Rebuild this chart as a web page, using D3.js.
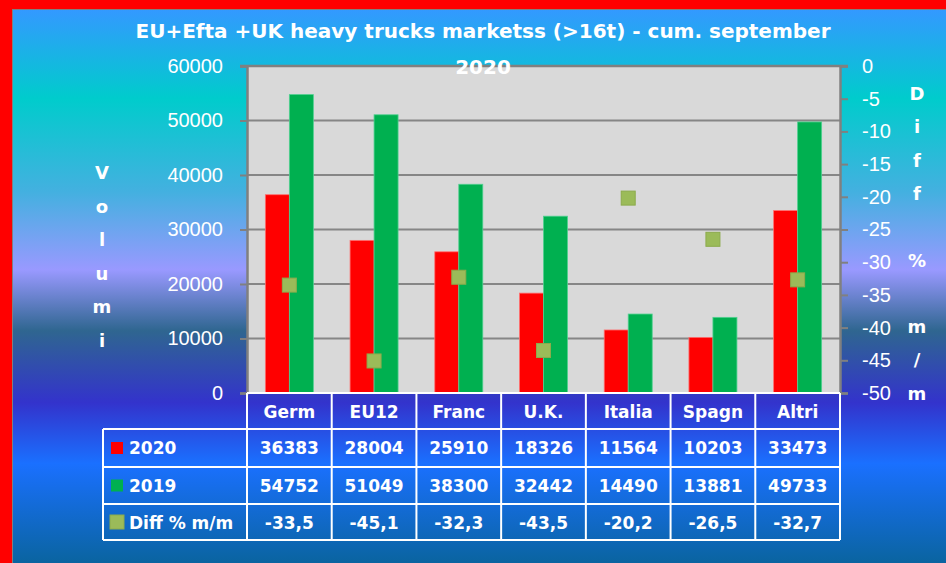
<!DOCTYPE html>
<html>
<head>
<meta charset="utf-8">
<script src="https://cdn.jsdelivr.net/npm/d3@7"></script>
<style>
  body { margin: 0; padding: 0; background: #fff; }
  svg { display: block; }
</style>
</head>
<body>
<svg width="946" height="563"></svg>
<script>
// chart data
const categories = ["Germ", "EU12", "Franc", "U.K.", "Italia", "Spagn", "Altri"];
const v2020 = [36383, 28004, 25910, 18326, 11564, 10203, 33473];
const v2019 = [54752, 51049, 38300, 32442, 14490, 13881, 49733];
const diffPct = [-33.5, -45.1, -32.3, -43.5, -20.2, -26.5, -32.7];
const seriesNames = ["2020", "2019", "Diff % m/m"];
const leftTicks = [0, 10000, 20000, 30000, 40000, 50000, 60000];
const rightTicks = [0, -5, -10, -15, -20, -25, -30, -35, -40, -45, -50];

const svg = d3.select("svg");
const width = +svg.attr("width");
const height = +svg.attr("height");

const plot = { left: 247, right: 840, top: 66, bottom: 393 };
const rowEdges = [393, 429, 467, 504, 540];
const legendLeft = 103;

// italian style numbers, plain hyphen as minus
const locale = d3.formatLocale({ decimal: ",", thousands: ".", grouping: [3], currency: ["", "€"], minus: "-" });
const fmtPct = locale.format(".1f");
const fmtInt = locale.format("d");

// background gradient
const defs = svg.append("defs");
const grad = defs.append("linearGradient")
    .attr("id", "bg").attr("x1", 0).attr("y1", 0).attr("x2", 0).attr("y2", 1);
[
    [0, "#3399ff"], [0.16, "#00cccc"], [0.33, "#44b0e0"], [0.47, "#9999ff"],
    [0.58, "#2f6690"], [0.71, "#3333cc"], [0.82, "#1a70ff"], [1, "#0a64a0"]
].forEach(s => grad.append("stop").attr("offset", s[0]).attr("stop-color", s[1]));

svg.append("rect").attr("width", width).attr("height", height).attr("fill", "#ff0000");
svg.append("rect").attr("x", 12).attr("y", 9).attr("width", width - 12).attr("height", height - 9)
    .attr("fill", "#808080");
svg.append("rect").attr("x", 13).attr("y", 10).attr("width", width - 13).attr("height", height - 10)
    .attr("fill", "url(#bg)");

// scales
const x = d3.scaleBand().domain(categories).range([plot.left, plot.right]).paddingInner(0).paddingOuter(0);
const xSeries = d3.scaleBand().domain([0, 1]).range([-24, 24]);
const y = d3.scaleLinear().domain([0, 60000]).range([plot.bottom, plot.top]);
const y2 = d3.scaleLinear().domain([-50, 0]).range([plot.bottom, plot.top]);

// plot area
svg.append("rect")
    .attr("x", plot.left).attr("y", plot.top)
    .attr("width", plot.right - plot.left).attr("height", plot.bottom - plot.top)
    .attr("fill", "#d9d9d9");

svg.append("g").selectAll("line")
    .data(leftTicks.filter(d => d > 0))
    .join("line")
    .attr("x1", plot.left).attr("x2", plot.right)
    .attr("y1", d => y(d)).attr("y2", d => y(d))
    .attr("stroke", "#868686").attr("stroke-width", 2);

// bars
const barData = [];
categories.forEach((c, i) => {
    barData.push({ cat: c, s: 0, v: v2020[i] });
    barData.push({ cat: c, s: 1, v: v2019[i] });
});
const barColors = ["#ff0000", "#00b050"];
const barStroke = ["#ff7070", "#50d090"];

svg.append("g").selectAll("rect")
    .data(barData)
    .join("rect")
    .attr("x", d => x(d.cat) + x.bandwidth() / 2 + xSeries(d.s))
    .attr("y", d => y(d.v))
    .attr("width", xSeries.bandwidth())
    .attr("height", d => y(0) - y(d.v))
    .attr("fill", d => barColors[d.s])
    .attr("stroke", d => barStroke[d.s])
    .attr("stroke-width", 0.8);

// diff markers
svg.append("g").selectAll("rect")
    .data(categories.map((c, i) => ({ cat: c, v: diffPct[i] })))
    .join("rect")
    .attr("x", d => x(d.cat) + x.bandwidth() / 2 - 7)
    .attr("y", d => y2(d.v) - 7)
    .attr("width", 14).attr("height", 14)
    .attr("fill", "#9bbb59")
    .attr("stroke", "#8cab4c").attr("stroke-width", 1);

// axes
const leftAxis = svg.append("g")
    .attr("transform", `translate(${plot.left},0)`)
    .call(d3.axisLeft(y).tickValues(leftTicks).tickSize(7).tickPadding(17).tickFormat(d => String(d)));
const rightAxis = svg.append("g")
    .attr("transform", `translate(${plot.right},0)`)
    .call(d3.axisRight(y2).tickValues(rightTicks).tickSize(8).tickPadding(14).tickFormat(fmtInt));

[leftAxis, rightAxis].forEach(a => {
    a.select(".domain").attr("stroke", "#808080").attr("stroke-width", 2.5);
    a.selectAll(".tick line").attr("stroke", "#808080").attr("stroke-width", 2);
    a.selectAll(".tick text")
        .attr("fill", "#ffffff")
        .style("font-family", "'Liberation Sans', Arial, sans-serif")
        .style("font-size", "20px");
});
// top border of plot
svg.append("line")
    .attr("x1", plot.left - 7).attr("x2", plot.right + 8)
    .attr("y1", plot.top).attr("y2", plot.top)
    .attr("stroke", "#808080").attr("stroke-width", 2.5);

// axis titles (stacked letters)
const boldFont = "'DejaVu Sans', Verdana, sans-serif";
function stackedTitle(text, cx, yStart, step) {
    svg.append("g").selectAll("text")
        .data(text.split(""))
        .join("text")
        .attr("x", cx)
        .attr("y", (d, i) => yStart + i * step)
        .attr("text-anchor", "middle")
        .attr("fill", "#ffffff")
        .style("font-family", boldFont)
        .style("font-weight", "bold")
        .style("font-size", "18px")
        .text(d => d);
}
stackedTitle("Volumi", 102, 179, 33.6);
stackedTitle("Diff % m/m", 917, 100, 33.3);

// title
const title = svg.append("text")
    .attr("x", 483).attr("text-anchor", "middle")
    .attr("fill", "#ffffff")
    .style("font-family", boldFont)
    .style("font-weight", "bold")
    .style("font-size", "20px");
title.append("tspan").attr("x", 483).attr("y", 38).text("EU+Efta +UK heavy trucks marketss (>16t) - cum. september");
title.append("tspan").attr("x", 483).attr("y", 74).text("2020");

// data table
const table = svg.append("g").attr("class", "table");
const cellText = (tx, ty, t, anchor) => table.append("text")
    .attr("x", tx).attr("y", ty)
    .attr("text-anchor", anchor || "middle")
    .attr("fill", "#ffffff")
    .style("font-family", boldFont)
    .style("font-weight", "bold")
    .style("font-size", "17px")
    .text(t);

const lineStyle = sel => sel.attr("stroke", "#ffffff").attr("stroke-width", 2);

// horizontal lines
table.append("line").attr("x1", plot.left).attr("x2", plot.right)
    .attr("y1", rowEdges[0]).attr("y2", rowEdges[0]).call(lineStyle);
rowEdges.slice(1).forEach(r => {
    table.append("line").attr("x1", legendLeft).attr("x2", plot.right)
        .attr("y1", r).attr("y2", r).call(lineStyle);
});
// vertical lines
table.append("line").attr("x1", legendLeft).attr("x2", legendLeft)
    .attr("y1", rowEdges[1]).attr("y2", rowEdges[4]).call(lineStyle);
x.domain().forEach(c => {
    table.append("line").attr("x1", x(c)).attr("x2", x(c))
        .attr("y1", rowEdges[0]).attr("y2", rowEdges[4]).call(lineStyle);
});
table.append("line").attr("x1", plot.right).attr("x2", plot.right)
    .attr("y1", rowEdges[0]).attr("y2", rowEdges[4]).call(lineStyle);

// header row
categories.forEach(c => cellText(x(c) + x.bandwidth() / 2, rowEdges[0] + 25, c));

// value rows
const rows = [v2020.map(d => String(d)), v2019.map(d => String(d)), diffPct.map(d => fmtPct(d))];
rows.forEach((vals, r) => {
    const base = rowEdges[r + 1] + 25;
    categories.forEach((c, i) => cellText(x(c) + x.bandwidth() / 2, base, vals[i]));
});

// legend keys
const keyColors = ["#ff0000", "#00b050", "#9bbb59"];
seriesNames.forEach((name, r) => {
    const mid = (rowEdges[r + 1] + rowEdges[r + 2]) / 2;
    const size = r === 2 ? 14 : 12;
    table.append("rect")
        .attr("x", r === 2 ? 110 : 111).attr("y", mid - size / 2)
        .attr("width", size).attr("height", size)
        .attr("fill", keyColors[r])
        .attr("stroke", r === 2 ? "#8cab4c" : "none");
    cellText(129, rowEdges[r + 1] + 25, name, "start");
});
</script>
</body>
</html>
